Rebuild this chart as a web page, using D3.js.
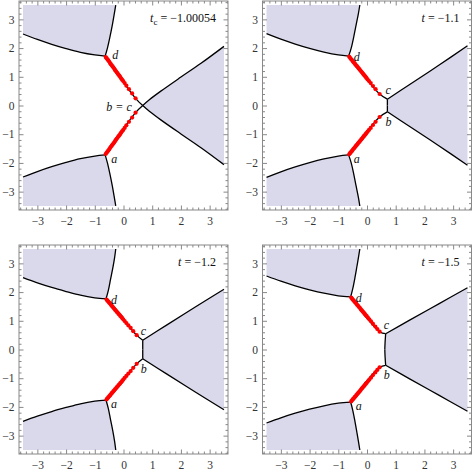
<!DOCTYPE html>
<html>
<head>
<meta charset="utf-8">
<script src="https://cdn.jsdelivr.net/npm/d3@7"></script>
<style>
  body { margin: 0; background: #fff; }
  svg { display: block; }
</style>
</head>
<body>
<div id="chart"></div>
<script>
// panel titles (t value), italic symbol + rest
var titleSym = ["t", "t", "t", "t"];
var titleSub = ["c", "", "", ""];
var titleRest = [" = \u22121.00054", " = \u22121.1", " = \u22121.2", " = \u22121.5"];

var majorTicks = [-3, -2, -1, 0, 1, 2, 3];

// upper half of each panel; the lower half is the mirror image (y -> -y)
// lower edge of the upper-left shaded region, from left border to point d
var leftCurve1 = [[-3.5,2.49],[-3.0,2.30],[-2.5,2.13],[-2.0,1.98],[-1.5,1.85],[-1.0,1.76],[-0.64,1.72]];
var leftCurve2 = [[-3.5,2.50],[-3.0,2.31],[-2.5,2.14],[-2.0,1.99],[-1.5,1.86],[-1.0,1.76],[-0.64,1.72]];
var leftCurve3 = [[-3.5,2.50],[-3.0,2.32],[-2.5,2.16],[-2.0,2.02],[-1.5,1.89],[-1.0,1.80],[-0.61,1.76]];
var leftCurve4 = [[-3.5,2.56],[-3.0,2.38],[-2.5,2.22],[-2.0,2.08],[-1.5,1.96],[-1.0,1.87],[-0.57,1.83]];

// right edge of the upper-left region, from d to the top border
var leftBranch1 = [[-0.64,1.72],[-0.56,2.0],[-0.47,2.4],[-0.39,2.8],[-0.32,3.2],[-0.27,3.5]];
var leftBranch2 = [[-0.64,1.72],[-0.55,2.0],[-0.46,2.4],[-0.38,2.8],[-0.30,3.2],[-0.25,3.5]];
var leftBranch3 = [[-0.61,1.76],[-0.53,2.05],[-0.45,2.45],[-0.37,2.85],[-0.31,3.2],[-0.27,3.5]];
var leftBranch4 = [[-0.57,1.83],[-0.50,2.1],[-0.42,2.5],[-0.35,2.9],[-0.29,3.25],[-0.25,3.5]];

// upper edge of the right region, from c to the right border
var rightCurve1 = [[0.67,0],[0.9,0.2],[1.3,0.5],[2.0,0.99],[2.7,1.47],[3.5,2.06]];
var rightCurve2 = [[0.71,0.22],[1.5,0.74],[2.5,1.40],[3.5,2.08]];
var rightCurve3 = [[0.67,0.32],[1.5,0.85],[2.5,1.48],[3.5,2.10]];
var rightCurve4 = [[0.65,0.55],[1.5,1.03],[2.5,1.59],[3.5,2.15]];

// segment from c down to the real axis
var midSeg1 = [[0.67,0]];
var midSeg2 = [[0.71,0.22],[0.71,0]];
var midSeg3 = [[0.67,0.32],[0.67,0]];
var midSeg4 = [[0.65,0.55],[0.63,0.25],[0.62,0]];

// black line from d to c
var stokes1 = [[-0.64,1.72],[0.42,0.25],[0.67,0]];
var stokes2 = [[-0.64,1.72],[0.44,0.40],[0.71,0.22]];
var stokes3 = [[-0.61,1.76],[0.46,0.50],[0.67,0.32]];
var stokes4 = [[-0.57,1.83],[0.44,0.62],[0.65,0.55]];

// red points on the d-c line
var dots1 = [[-0.62,1.69],[-0.59,1.65],[-0.56,1.61],[-0.53,1.57],[-0.50,1.53],[-0.47,1.48],[-0.44,1.44],[-0.41,1.40],[-0.38,1.36],[-0.35,1.32],[-0.32,1.28],[-0.29,1.23],[-0.26,1.19],[-0.23,1.15],[-0.20,1.11],[-0.17,1.07],[-0.14,1.03],[-0.11,0.99],[-0.08,0.94],[-0.05,0.90],[-0.01,0.85],[0.04,0.78],[0.10,0.69],[0.19,0.57],[0.30,0.42],[0.42,0.25]];
var dots2 = [[-0.62,1.70],[-0.59,1.66],[-0.56,1.62],[-0.53,1.59],[-0.50,1.55],[-0.47,1.51],[-0.44,1.48],[-0.41,1.44],[-0.38,1.40],[-0.35,1.37],[-0.32,1.33],[-0.29,1.29],[-0.26,1.26],[-0.23,1.22],[-0.20,1.18],[-0.17,1.15],[-0.14,1.11],[-0.11,1.07],[-0.08,1.04],[-0.05,1.00],[-0.02,0.96],[0.02,0.91],[0.07,0.85],[0.13,0.78],[0.21,0.68],[0.30,0.57],[0.44,0.40]];
var dots3 = [[-0.59,1.74],[-0.56,1.70],[-0.53,1.67],[-0.50,1.63],[-0.47,1.60],[-0.44,1.56],[-0.41,1.52],[-0.38,1.49],[-0.35,1.45],[-0.32,1.42],[-0.29,1.38],[-0.26,1.35],[-0.23,1.31],[-0.20,1.28],[-0.17,1.24],[-0.14,1.21],[-0.11,1.17],[-0.08,1.14],[-0.05,1.10],[-0.01,1.05],[0.04,0.99],[0.10,0.92],[0.17,0.84],[0.25,0.75],[0.34,0.64],[0.46,0.50]];
var dots4 = [[-0.55,1.81],[-0.52,1.77],[-0.49,1.73],[-0.46,1.70],[-0.43,1.66],[-0.40,1.63],[-0.37,1.59],[-0.34,1.55],[-0.31,1.52],[-0.28,1.48],[-0.25,1.45],[-0.22,1.41],[-0.19,1.37],[-0.16,1.34],[-0.13,1.30],[-0.10,1.27],[-0.07,1.23],[-0.04,1.19],[-0.01,1.16],[0.03,1.11],[0.08,1.05],[0.14,0.98],[0.21,0.89],[0.29,0.80],[0.36,0.71],[0.44,0.62]];

var leftCurves = [leftCurve1, leftCurve2, leftCurve3, leftCurve4];
var leftBranches = [leftBranch1, leftBranch2, leftBranch3, leftBranch4];
var rightCurves = [rightCurve1, rightCurve2, rightCurve3, rightCurve4];
var midSegs = [midSeg1, midSeg2, midSeg3, midSeg4];
var stokesLines = [stokes1, stokes2, stokes3, stokes4];
var dotSets = [dots1, dots2, dots3, dots4];

var W = 473, H = 473, S = 209;
var origins = [[19, 1], [262.5, 1], [19, 245], [262.5, 245]];
var FILL = "#d9d9eb";

var svg = d3.select("#chart").append("svg")
  .attr("width", W)
  .attr("height", H);

var x = d3.scaleLinear().domain([-3.64, 3.64]).range([0, S]);
var y = d3.scaleLinear().domain([-3.64, 3.64]).range([S, 0]);

var minorTicks = d3.range(-18, 19).map(function(i){ return i / 5; })
  .filter(function(v){ return Math.abs(v - Math.round(v)) > 1e-6; });

var line = d3.line()
  .x(function(d){ return x(d[0]); })
  .y(function(d){ return y(d[1]); })
  .curve(d3.curveCatmullRom);

function mirror(pts){ return pts.map(function(p){ return [p[0], -p[1]]; }); }
function rev(pts){ return pts.slice().reverse(); }
function seg(pts){ return line(pts).replace(/^M/, "L"); }
function fmt(v){ return v < 0 ? "\u2212" + Math.abs(v) : String(v); }

function drawPanel(k){
  var g = svg.append("g")
    .attr("transform", "translate(" + origins[k][0] + "," + origins[k][1] + ")");

  var lc = leftCurves[k], lb = leftBranches[k], rc = rightCurves[k], ms = midSegs[k];

  // shaded regions
  [1, -1].forEach(function(s){
    var c = s > 0 ? lc : mirror(lc), b = s > 0 ? lb : mirror(lb);
    var p = "M" + x(-3.5) + "," + y(3.5 * s) + seg(c) + seg(b) + "Z";
    g.append("path").attr("d", p).attr("fill", FILL).attr("stroke", "none");
  });
  var rp = line(rev(rc)) + seg(ms) + seg(mirror(rev(ms))) + seg(mirror(rc)) + "Z";
  g.append("path").attr("d", rp).attr("fill", FILL).attr("stroke", "none");

  // boundary curves
  var curves = [lc, lb, rc, stokesLines[k], mirror(lc), mirror(lb), mirror(rc), mirror(stokesLines[k])];
  if (ms.length > 1) { curves.push(ms); curves.push(mirror(ms)); }
  g.selectAll("path.curve").data(curves).enter().append("path")
    .attr("class", "curve")
    .attr("d", line)
    .attr("fill", "none")
    .attr("stroke", "#000")
    .attr("stroke-width", 1.3);

  // red points
  var pts = dotSets[k].concat(mirror(dotSets[k]));
  g.selectAll("circle").data(pts).enter().append("circle")
    .attr("cx", function(d){ return x(d[0]); })
    .attr("cy", function(d){ return y(d[1]); })
    .attr("r", 2.1)
    .attr("fill", "#f00");

  // frame + ticks
  var axes = [
    { ax: d3.axisBottom(x), tr: "translate(0," + S + ")", lab: true },
    { ax: d3.axisTop(x), tr: "translate(0,0)", lab: false },
    { ax: d3.axisLeft(y), tr: "translate(0,0)", lab: true },
    { ax: d3.axisRight(y), tr: "translate(" + S + ",0)", lab: false }
  ];
  axes.forEach(function(a, i){
    var major = g.append("g").attr("transform", a.tr)
      .call(a.ax.tickValues(majorTicks).tickSize(-4.5)
        .tickPadding(i === 0 ? 6.5 : 4.5)
        .tickFormat(a.lab ? fmt : ""));
    major.select(".domain").remove();
    major.selectAll("line").attr("stroke", "#888");
    major.selectAll("text")
      .attr("fill", "#333")
      .style("font-family", "'Liberation Serif', 'DejaVu Serif', serif")
      .style("font-size", "11.5px");

    var minor = g.append("g").attr("transform", a.tr)
      .call(a.ax.tickValues(minorTicks).tickSize(-2.5).tickFormat(""));
    minor.select(".domain").remove();
    minor.selectAll("line").attr("stroke", "#888");
  });
  g.append("rect")
    .attr("width", S).attr("height", S)
    .attr("fill", "none").attr("stroke", "#888").attr("stroke-width", 1);

  // title
  var t = g.append("text")
    .attr("x", S - 12).attr("y", 21)
    .attr("text-anchor", "end")
    .attr("fill", "#111")
    .style("font-family", "'Liberation Serif', serif")
    .style("font-size", "12px");
  t.append("tspan").style("font-style", "italic").text(titleSym[k]);
  if (titleSub[k]) {
    t.append("tspan").attr("dy", 3).style("font-size", "9px").text(titleSub[k]);
    t.append("tspan").attr("dy", -3).text(titleRest[k]);
  } else {
    t.append("tspan").text(titleRest[k]);
  }

  // point labels
  var st = stokesLines[k], dP = st[0], cP = st[st.length - 1];
  var bP = [cP[0], -cP[1]];
  var labs;
  if (k === 0) {
    labs = [
      { s: "d", x: x(dP[0]) + 7, y: y(dP[1]) + 3, a: "start" },
      { s: "a", x: x(dP[0]) + 6, y: y(-dP[1]) + 8, a: "start" },
      { s: "b = c", x: x(cP[0]) - 11, y: y(0) + 5, a: "end" }
    ];
  } else {
    labs = [
      { s: "d", x: x(dP[0]) + 5, y: y(dP[1]) + 5, a: "start" },
      { s: "a", x: x(dP[0]) + 5, y: y(-dP[1]) + 8, a: "start" },
      { s: "c", x: x(cP[0]) - 2, y: y(cP[1]) - 5, a: "start" },
      { s: "b", x: x(bP[0]) - 2, y: y(bP[1]) + 14, a: "start" }
    ];
  }
  g.selectAll("text.lab").data(labs).enter().append("text")
    .attr("class", "lab")
    .attr("x", function(d){ return d.x; })
    .attr("y", function(d){ return d.y; })
    .attr("text-anchor", function(d){ return d.a; })
    .attr("fill", "#111")
    .style("font-family", "'Liberation Serif', serif")
    .style("font-style", "italic")
    .style("font-size", "12px")
    .text(function(d){ return d.s; });
}

[0, 1, 2, 3].forEach(drawPanel);
</script>
</body>
</html>
